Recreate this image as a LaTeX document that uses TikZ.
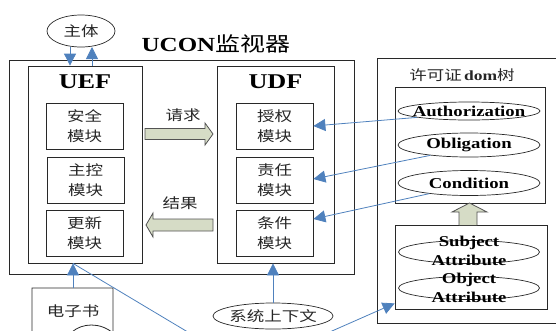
\documentclass[tikz,border=0pt]{standalone}
\usepackage{fontspec}
\setmainfont{Liberation Serif}[FakeStretch=1.25]
\newfontfamily\cjk{Noto Sans CJK SC}[FakeStretch=1.25]
\usetikzlibrary{arrows.meta,shapes.geometric}
\definecolor{lnblue}{RGB}{79,129,189}
\definecolor{blkfill}{RGB}{214,220,198}
\definecolor{lnk}{RGB}{40,40,40}
\begin{document}
\begin{tikzpicture}[x=1pt,y=-1pt,
  box/.style={draw=lnk, line width=0.8pt, rectangle, inner sep=0pt},
  modbox/.style={box, minimum width=77pt, minimum height=46pt, align=center, font=\cjk\fontsize{14}{20}\selectfont, text=black!85},
  ell/.style={draw=lnk, line width=0.7pt, ellipse, inner sep=0pt},
  lbl/.style={inner sep=0pt, align=center, font=\fontsize{15}{19}\selectfont\bfseries},
  cjklbl/.style={inner sep=0pt, align=center, font=\cjk\fontsize{14}{20}\selectfont, text=black!85},
  conn/.style={draw=lnblue, line width=0.8pt, -{Triangle[width=12pt,length=12pt]}},
  blk/.style={draw=lnk!80, line width=0.8pt, fill=blkfill},
]
\useasboundingbox (0,0) rectangle (556,330);

% monitor
\node[box, minimum width=345pt, minimum height=214pt] (mon) at (181.5,167) {};
\node[inner sep=0pt, font=\fontsize{20}{24}\selectfont] (title) at (216,44) {\bfseries UCON{\cjk\mdseries 监视器}};
\node[box, minimum width=114pt, minimum height=197pt] (uef) at (85,164.5) {};
\node[box, minimum width=117pt, minimum height=197pt] (udf) at (275.5,164.5) {};
\node[inner sep=0pt, font=\fontsize{21}{24}\selectfont\bfseries] (ueft) at (85,82) {UEF};
\node[inner sep=0pt, font=\fontsize{21}{24}\selectfont\bfseries] (udft) at (275.5,82) {UDF};

\node[modbox] (anquan) at (84.5,126) {安全\\模块};
\node[modbox] (zhukong) at (85.5,180) {主控\\模块};
\node[modbox] (gengxin) at (84.5,233) {更新\\模块};
\node[modbox] (shouquan) at (274.5,126) {授权\\模块};
\node[modbox] (zeren) at (274.5,180) {责任\\模块};
\node[modbox] (tiaojian) at (274.5,233) {条件\\模块};

% block arrows
\draw[blk] (145,128.5) -- (205,128.5) -- (205,123) -- (213,134) -- (205,145) -- (205,139.5) -- (145,139.5) -- cycle;
\draw[blk] (213,219) -- (153,219) -- (153,213) -- (146,225) -- (153,237) -- (153,231) -- (213,231) -- cycle;
\node[cjklbl] (qingqiu) at (183,115) {请求};
\node[cjklbl] (jieguo) at (180,203) {结果};

% subject
\node[ell, minimum width=68pt, minimum height=32pt] (zhuti) at (81,31) {};
\node[cjklbl] at (zhuti) {主体};
\draw[conn] (zhuti.south -| 70,0) -- (uef.north -| 70,0);
\draw[conn] (uef.north -| 92,0) -- (92,47);

% license tree
\node[box, minimum width=188pt, minimum height=265pt] (lic) at (471,190.5) {};
\node[inner sep=0pt, font=\fontsize{14}{18}\selectfont, text=black!85] (lictitle) at (462,75) {{\cjk 许可证}\,{\bfseries dom}{\cjk 树}};
\node[box, minimum width=150pt, minimum height=116pt] (inner1) at (470,145) {};
\node[box, minimum width=152pt, minimum height=84pt] (inner2) at (471,267) {};
\node[ell, minimum width=142pt, minimum height=18pt] (auth) at (469,111) {};
\node[lbl] at (auth) {Authorization};
\node[ell, minimum width=142pt, minimum height=24pt] (obl) at (469,145) {};
\node[lbl] at (obl) {Obligation};
\node[ell, minimum width=142pt, minimum height=25pt] (cond) at (469,183) {};
\node[lbl] at (cond) {Condition};
\node[ell, minimum width=141pt, minimum height=23pt] (subj) at (469,252) {};
\node[lbl] at (469,251) {Subject\\Attribute};
\node[ell, minimum width=141pt, minimum height=23pt] (obj) at (469,288) {};
\node[lbl] at (469,288) {Object\\Attribute};
\draw[blk] (459,225) -- (459,212) -- (452,212) -- (469.5,203) -- (487,212) -- (477,212) -- (477,225);

% connectors from license
\draw[conn] (auth.187) -- (shouquan.east);
\draw[conn] (obl.195) -- ([yshift=1pt]zeren.east);
\draw[conn] (cond.195) -- ([yshift=14pt]tiaojian.east);

% system context
\node[ell, minimum width=120pt, minimum height=26pt] (sys) at (273,316) {};
\node[cjklbl] at (sys) {系统上下文};
\draw[conn] (sys.north) -- (sys.north |- udf.south);

% e-book
\draw[draw=lnk, line width=0.8pt] (32,345) -- (32,288) -- (113,288) -- (113,333)
  .. controls (100,322) and (82,323) .. (72,332) .. controls (60,344) and (45,344) .. (32,338);
\node[cjklbl] (ebook) at (73,311) {电子书};
\coordinate (ebtop) at (73,288);
\draw[conn] (ebtop) -- (uef.south -| 73,0);
\coordinate (below) at (248,368);
\draw[conn] (uef.south -| 73,0) -- (below) -- ([yshift=6pt]inner2.south west);
\end{tikzpicture}
\end{document}
